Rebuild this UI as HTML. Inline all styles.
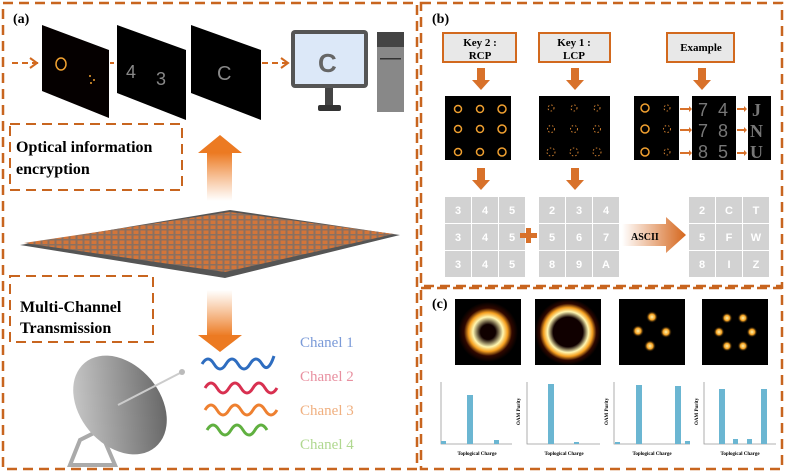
<!DOCTYPE html>
<html><head><meta charset="utf-8"><style>
html,body{margin:0;padding:0;background:#fff;}
svg{display:block;}
text{font-family:"Liberation Serif",serif;}
text.s{font-family:"Liberation Sans",sans-serif;}
.b{font-weight:bold;}
</style></head><body>
<svg width="786" height="472" viewBox="0 0 786 472" xmlns="http://www.w3.org/2000/svg">
<defs>
<linearGradient id="up" x1="0" y1="1" x2="0" y2="0"><stop offset="0" stop-color="#f08a3a" stop-opacity="0"/><stop offset="1" stop-color="#ec7a22"/></linearGradient>
<linearGradient id="dn" x1="0" y1="0" x2="0" y2="1"><stop offset="0" stop-color="#f08a3a" stop-opacity="0"/><stop offset="1" stop-color="#ec7a22"/></linearGradient>
<linearGradient id="ar" x1="0" y1="0" x2="1" y2="0"><stop offset="0" stop-color="#fff"/><stop offset="1" stop-color="#d5661c"/></linearGradient>
<radialGradient id="ring1"><stop offset="0.25" stop-color="#100000"/><stop offset="0.5" stop-color="#fff6b0"/><stop offset="0.65" stop-color="#f5a020"/><stop offset="0.8" stop-color="#300800"/><stop offset="1" stop-color="#000"/></radialGradient>
<radialGradient id="ring2"><stop offset="0.45" stop-color="#100000"/><stop offset="0.62" stop-color="#fff6b0"/><stop offset="0.74" stop-color="#f5a020"/><stop offset="0.86" stop-color="#300800"/><stop offset="1" stop-color="#000"/></radialGradient>
<radialGradient id="spot"><stop offset="0" stop-color="#fff6b0"/><stop offset="0.5" stop-color="#f5a020"/><stop offset="1" stop-color="#000" stop-opacity="0"/></radialGradient>
<linearGradient id="dish" x1="0" y1="0" x2="1" y2="1"><stop offset="0" stop-color="#d8d8d8"/><stop offset="1" stop-color="#555"/></linearGradient>
<pattern id="meta" width="7" height="5" patternUnits="userSpaceOnUse"><rect width="7" height="5" fill="#8a7060"/><rect x="0.5" y="0.5" width="5" height="3.5" fill="#d2753a"/></pattern>
</defs>

<g fill="none" stroke="#c8651f" stroke-width="2.5" stroke-dasharray="10,6">
<rect x="3" y="3" width="414" height="466"/>
<rect x="421" y="3" width="361" height="283"/>
<rect x="421" y="288" width="361" height="181"/>
<rect x="10" y="124" width="172" height="66" stroke-width="2"/>
<rect x="10" y="276" width="143" height="66" stroke-width="2"/>
</g>

<text x="13" y="23" font-size="14" class="b">(a)</text>
<g stroke="#d2691e" stroke-width="2" fill="none">
<line x1="12" y1="63" x2="40" y2="63" stroke-dasharray="6,4"/><polyline points="30,58 37,63 30,68"/>
<line x1="262" y1="63" x2="288" y2="63" stroke-dasharray="6,4"/><polyline points="281,58 288,63 281,68"/>
<line x1="110" y1="63" x2="117" y2="63" stroke-dasharray="4,3"/>
</g>
<polygon points="42,25 109,50 109,118 42,91" fill="#050000"/>
<ellipse cx="61" cy="64" rx="5" ry="6" fill="none" stroke="#f0a030" stroke-width="1.5"/>
<circle cx="90" cy="76" r="1" fill="#f0a030"/><circle cx="94" cy="80" r="1" fill="#f0a030"/><circle cx="91" cy="83" r="1" fill="#f0a030"/>
<polygon points="117,25 186,50 186,120 117,93" fill="#000"/>
<text x="126" y="78" font-size="18" fill="#888" class="s">4</text>
<text x="156" y="85" font-size="18" fill="#888" class="s">3</text>
<polygon points="191,25 261,50 261,120 191,93" fill="#000"/>
<text x="217" y="80" font-size="20" fill="#888" class="s">C</text>
<rect x="291" y="30" width="77" height="58" rx="4" fill="#555"/>
<rect x="295" y="34" width="69" height="50" fill="#dce8f8"/>
<text x="318" y="72" font-size="26" fill="#666" class="s b">C</text>
<rect x="325" y="88" width="8" height="18" fill="#444"/>
<rect x="318" y="105" width="23" height="6" rx="2" fill="#333"/>
<rect x="377" y="32" width="27" height="80" fill="#888"/>
<rect x="377" y="32" width="27" height="15" fill="#444"/>
<rect x="380" y="58" width="21" height="1.5" fill="#333"/>
<text x="16" y="152" font-size="16" class="b">Optical information</text>
<text x="16" y="174" font-size="16" class="b">encryption</text>
<rect x="207" y="153" width="25" height="48" fill="url(#up)"/>
<polygon points="198,153 220,135 242,153" fill="#ec7a22"/>
<polygon points="20,245 230,210 400,235 225,278" fill="#555"/>
<polygon points="24,243 230,212 394,234 225,272" fill="url(#meta)"/>
<text x="20" y="312" font-size="16" class="b">Multi-Channel</text>
<text x="20" y="333" font-size="16" class="b">Transmission</text>
<rect x="207" y="290" width="25" height="46" fill="url(#dn)"/>
<polygon points="198,335 242,335 220,352" fill="#ec7a22"/>
<g fill="none" stroke-width="3">
<path d="M202,364 q6,-10 12,0 t12,0 t12,0 t12,0 t12,0 t12,-8" stroke="#2e6dc0"/>
<path d="M205,388 q6,-10 12,0 t12,0 t12,0 t12,0 t12,0 t12,0" stroke="#d83050"/>
<path d="M205,410 q6,-10 12,0 t12,0 t12,0 t12,0 t12,0 t12,0" stroke="#ee8030"/>
<path d="M207,430 q6,-10 12,0 t12,0 t12,0 t12,0 t12,0" stroke="#60b040"/>
</g>
<g font-size="15">
<text x="300" y="347" fill="#7a9ad8">Chanel 1</text>
<text x="300" y="381" fill="#e890a0">Chanel 2</text>
<text x="300" y="415" fill="#f0b080">Chanel 3</text>
<text x="300" y="449" fill="#b0d890">Chanel 4</text>
</g>
<polygon points="80,440 70,465 115,465 100,430" fill="none" stroke="#aaa" stroke-width="4"/>
<ellipse cx="120" cy="405" rx="40" ry="55" transform="rotate(-40 120 405)" fill="url(#dish)"/>
<line x1="118" y1="405" x2="182" y2="372" stroke="#ccc" stroke-width="2"/>
<circle cx="182" cy="372" r="3" fill="#bbb"/>

<text x="432" y="23" font-size="14" class="b">(b)</text>
<g fill="#e8e8e8" stroke="#d2691e" stroke-width="2">
<rect x="443" y="33" width="73" height="29"/><rect x="539" y="33" width="71" height="29"/><rect x="667" y="33" width="67" height="29"/>
</g>
<g font-size="11" class="b" text-anchor="middle">
<text x="480" y="46">Key 2 :</text><text x="480" y="59">RCP</text>
<text x="574" y="46">Key 1 :</text><text x="574" y="59">LCP</text>
<text x="701" y="51">Example</text>
</g>
<g fill="#d8712a">
<rect x="477" y="68" width="8" height="12"/><polygon points="472,80 490,80 481,90"/>
<rect x="571" y="68" width="8" height="12"/><polygon points="566,80 584,80 575,90"/>
<rect x="698" y="68" width="8" height="12"/><polygon points="693,80 711,80 702,90"/>
<rect x="477" y="168" width="8" height="12"/><polygon points="472,180 490,180 481,190"/>
<rect x="571" y="168" width="8" height="12"/><polygon points="566,180 584,180 575,190"/>
</g>
<rect x="445" y="96" width="66" height="64" fill="#000"/>
<g fill="none" stroke="#f0a030" stroke-width="1.5">
<circle cx="458" cy="109" r="3.5"/><circle cx="480" cy="109" r="3.5"/><circle cx="502" cy="109" r="4"/>
<circle cx="458" cy="129" r="3.5"/><circle cx="480" cy="129" r="3.5"/><circle cx="502" cy="129" r="4"/>
<circle cx="458" cy="152" r="3.5"/><circle cx="480" cy="152" r="3.5"/><circle cx="502" cy="152" r="4"/>
</g>
<rect x="539" y="96" width="71" height="64" fill="#000"/>
<g fill="none" stroke="#d08030" stroke-width="1" stroke-dasharray="1.5,2">
<circle cx="551" cy="108" r="3"/><circle cx="574" cy="108" r="3"/><circle cx="597" cy="108" r="3"/>
<circle cx="551" cy="129" r="3.5"/><circle cx="574" cy="129" r="3.5"/><circle cx="597" cy="129" r="3.5"/>
<circle cx="551" cy="152" r="4"/><circle cx="574" cy="152" r="4"/><circle cx="597" cy="152" r="4"/>
</g>
<rect x="634" y="96" width="45" height="64" fill="#000"/>
<g fill="none" stroke="#f0a030" stroke-width="1.5">
<circle cx="645" cy="108" r="4"/><circle cx="645" cy="129" r="4"/><circle cx="645" cy="152" r="4"/>
</g>
<g fill="none" stroke="#d08030" stroke-width="1" stroke-dasharray="1.5,2">
<circle cx="667" cy="108" r="3"/><circle cx="667" cy="129" r="3.5"/><circle cx="667" cy="152" r="3"/>
</g>
<rect x="692" y="96" width="44" height="64" fill="#000"/>
<rect x="748" y="96" width="23" height="64" fill="#000"/>
<g font-size="18" fill="#777">
<text x="698" y="116" class="s">7</text><text x="718" y="116" class="s">4</text>
<text x="698" y="137" class="s">7</text><text x="718" y="137" class="s">8</text>
<text x="698" y="158" class="s">8</text><text x="718" y="158" class="s">5</text>
</g>
<g font-size="18" fill="#777" class="b">
<text x="752" y="116">J</text><text x="750" y="137">N</text><text x="750" y="158">U</text>
</g>
<g fill="#d8712a">
<polygon points="680,108 689,108 689,106 692,109 689,112 689,110 680,110"/>
<polygon points="680,129 689,129 689,127 692,130 689,133 689,131 680,131"/>
<polygon points="680,152 689,152 689,150 692,153 689,156 689,154 680,154"/>
<polygon points="737,108 744,108 744,106 747,109 744,112 744,110 737,110"/>
<polygon points="737,129 744,129 744,127 747,130 744,133 744,131 737,131"/>
<polygon points="737,152 744,152 744,150 747,153 744,156 744,154 737,154"/>
</g>
<g fill="#d2d2d2">
<rect x="445" y="197" width="26" height="26"/><rect x="472" y="197" width="26" height="26"/><rect x="499" y="197" width="26" height="26"/>
<rect x="445" y="224" width="26" height="26"/><rect x="472" y="224" width="26" height="26"/><rect x="499" y="224" width="26" height="26"/>
<rect x="445" y="251" width="26" height="26"/><rect x="472" y="251" width="26" height="26"/><rect x="499" y="251" width="26" height="26"/>
<rect x="539" y="197" width="26" height="26"/><rect x="566" y="197" width="26" height="26"/><rect x="593" y="197" width="26" height="26"/>
<rect x="539" y="224" width="26" height="26"/><rect x="566" y="224" width="26" height="26"/><rect x="593" y="224" width="26" height="26"/>
<rect x="539" y="251" width="26" height="26"/><rect x="566" y="251" width="26" height="26"/><rect x="593" y="251" width="26" height="26"/>
<rect x="689" y="197" width="26" height="26"/><rect x="716" y="197" width="26" height="26"/><rect x="743" y="197" width="26" height="26"/>
<rect x="689" y="224" width="26" height="26"/><rect x="716" y="224" width="26" height="26"/><rect x="743" y="224" width="26" height="26"/>
<rect x="689" y="251" width="26" height="26"/><rect x="716" y="251" width="26" height="26"/><rect x="743" y="251" width="26" height="26"/>
</g>
<g font-size="11" fill="#fff" class="b" text-anchor="middle">
<text x="458" y="214" class="s">3</text><text x="485" y="214" class="s">4</text><text x="512" y="214" class="s">5</text>
<text x="458" y="241" class="s">3</text><text x="485" y="241" class="s">4</text><text x="512" y="241" class="s">5</text>
<text x="458" y="268" class="s">3</text><text x="485" y="268" class="s">4</text><text x="512" y="268" class="s">5</text>
<text x="552" y="214" class="s">2</text><text x="579" y="214" class="s">3</text><text x="606" y="214" class="s">4</text>
<text x="552" y="241" class="s">5</text><text x="579" y="241" class="s">6</text><text x="606" y="241" class="s">7</text>
<text x="552" y="268" class="s">8</text><text x="579" y="268" class="s">9</text><text x="606" y="268" class="s">A</text>
<text x="702" y="214" class="s">2</text><text x="729" y="214" class="s">C</text><text x="756" y="214" class="s">T</text>
<text x="702" y="241" class="s">5</text><text x="729" y="241" class="s">F</text><text x="756" y="241" class="s">W</text>
<text x="702" y="268" class="s">8</text><text x="729" y="268" class="s">I</text><text x="756" y="268" class="s">Z</text>
</g>
<rect x="520" y="233" width="17" height="5" fill="#d8712a"/><rect x="526" y="228" width="5" height="15" fill="#d8712a"/>
<polygon points="622,224 666,224 666,217 686,235 666,253 666,246 622,246" fill="url(#ar)"/>
<text x="631" y="240" font-size="10" class="b">ASCII</text>

<text x="432" y="308" font-size="14" class="b">(c)</text>
<rect x="455" y="299" width="66" height="66" fill="#000"/><circle cx="488" cy="332" r="30" fill="url(#ring1)"/>
<rect x="535" y="299" width="66" height="66" fill="#000"/><circle cx="568" cy="332" r="33" fill="url(#ring2)"/>
<rect x="619" y="299" width="66" height="66" fill="#000"/>
<circle cx="652" cy="317" r="6" fill="url(#spot)"/><circle cx="638" cy="331" r="6" fill="url(#spot)"/><circle cx="666" cy="332" r="6" fill="url(#spot)"/><circle cx="650" cy="346" r="6" fill="url(#spot)"/>
<rect x="702" y="299" width="66" height="66" fill="#000"/>
<circle cx="727" cy="318" r="5.5" fill="url(#spot)"/><circle cx="743" cy="318" r="5.5" fill="url(#spot)"/><circle cx="719" cy="332" r="5.5" fill="url(#spot)"/><circle cx="752" cy="332" r="5.5" fill="url(#spot)"/><circle cx="727" cy="346" r="5.5" fill="url(#spot)"/><circle cx="743" cy="346" r="5.5" fill="url(#spot)"/>
<g stroke="#999" stroke-width="0.8" fill="none">
<polyline points="441,382 441,444 512,444"/><polyline points="527,382 527,444 600,444"/><polyline points="614,382 614,444 690,444"/><polyline points="704,382 704,444 776,444"/>
</g>
<g fill="#6bb6d2">
<rect x="441" y="441" width="5" height="3"/><rect x="467" y="395" width="6" height="49"/><rect x="494" y="440" width="5" height="4"/>
<rect x="548" y="384" width="6" height="60"/><rect x="574" y="442" width="5" height="2"/>
<rect x="615" y="442" width="5" height="2"/><rect x="636" y="385" width="6" height="59"/><rect x="675" y="386" width="6" height="58"/><rect x="685" y="441" width="5" height="3"/>
<rect x="719" y="389" width="6" height="55"/><rect x="733" y="439" width="5" height="5"/><rect x="747" y="439" width="5" height="5"/><rect x="761" y="389" width="6" height="55"/>
</g>
<g font-size="5" class="b" text-anchor="middle">
<text x="477" y="455">Toplogical Charge</text><text x="564" y="455">Toplogical Charge</text><text x="652" y="455">Toplogical Charge</text><text x="740" y="455">Toplogical Charge</text>
</g>
<g font-size="5" class="b">
<text transform="translate(520,425) rotate(-90)">OAM Purity</text>
<text transform="translate(608,425) rotate(-90)">OAM Purity</text>
<text transform="translate(698,425) rotate(-90)">OAM Purity</text>
</g>
</svg>
</body></html>
